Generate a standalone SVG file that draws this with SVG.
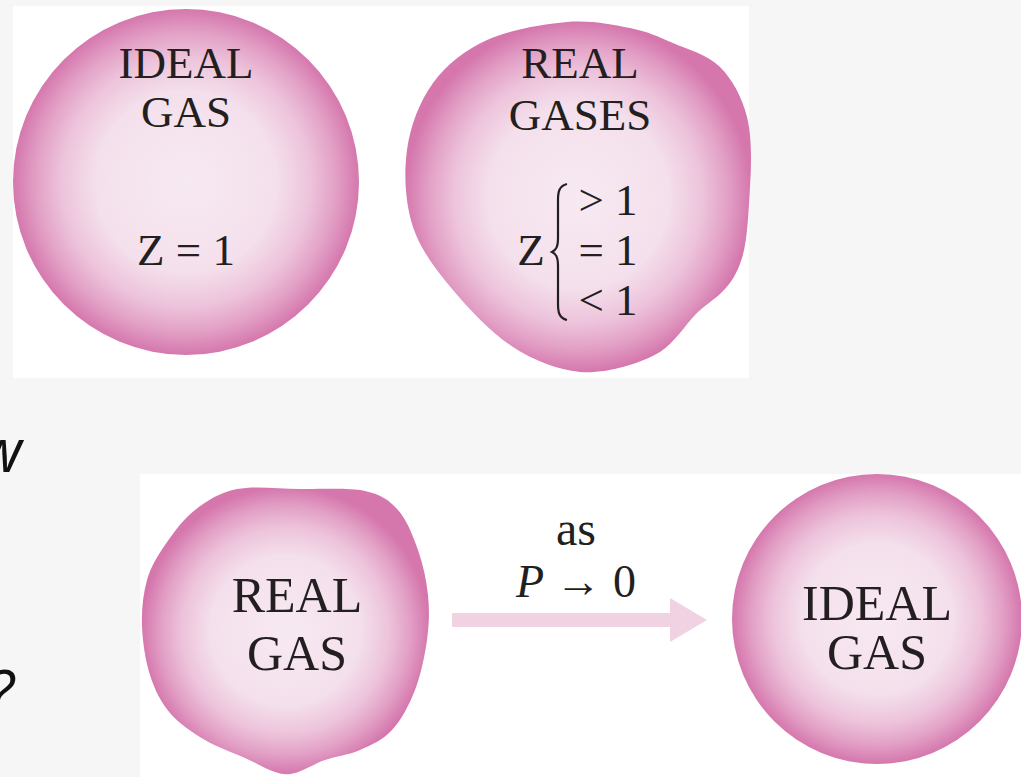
<svg xmlns="http://www.w3.org/2000/svg" width="1021" height="777" viewBox="0 0 1021 777">
<defs>
<radialGradient id="pinkGrad" cx="0.5" cy="0.5" r="0.5">
<stop offset="0" stop-color="#f7e9f2"/>
<stop offset="0.52" stop-color="#f4e0ec"/>
<stop offset="0.72" stop-color="#edc3db"/>
<stop offset="0.87" stop-color="#e29fc5"/>
<stop offset="1" stop-color="#d577ad"/>
</radialGradient>
<marker id="blockHead" markerUnits="userSpaceOnUse" markerWidth="38" markerHeight="44" refX="0" refY="22" orient="auto">
<path d="M0,0 L37,22 L0,44 Z" fill="#f0d2e3"/>
</marker>
<style>
.lbl{font-family:"Liberation Serif","Times New Roman",serif;fill:#231f20;text-anchor:middle}
.top{font-size:45px}
.bot{font-size:50px}
.it{font-style:italic}
.side{font-family:"Open Sans","Liberation Sans",sans-serif;font-style:italic;font-size:60px;fill:#111;text-anchor:end}
.blob{fill:url(#pinkGrad)}
</style>
</defs>
<rect x="0" y="0" width="1021" height="777" fill="#f6f6f6"/>
<rect x="13" y="6" width="736" height="372" fill="#ffffff"/>
<rect x="140" y="474" width="881" height="303" fill="#ffffff"/>
<text class="side" x="22" y="472">w</text>
<text class="side" x="14" y="713">?</text>

<g id="ideal-gas-top">
<circle class="blob" cx="186" cy="182" r="173"/>
<text class="lbl top" x="186" y="78">IDEAL</text>
<text class="lbl top" x="186" y="127">GAS</text>
<text class="lbl top" x="186" y="265">Z = 1</text>
</g>

<g id="real-gases-top">
<path class="blob" d="M567,22 C590.8,20 612.3,24.5 630,28 C647.7,31.5 658,36.5 673,43 C688,49.5 707.7,54.7 720,67 C732.3,79.3 742,97 747,117 C752,137 751.5,163 750,187 C748.5,211 747.5,241 742,258 C736.5,275 731,283 722,292 C713,301 704.5,305 695,315 C685.5,325 675,342 660,352 C640,364 605,374 580,372 C557.7,369.8 534.2,360.7 513,347 C491.8,333.3 469.7,310 453,290 C436.3,270 420.7,250.3 413,227 C405.3,203.7 403.7,174 407,150 C410.3,126 419.7,101.3 433,83 C446.3,64.7 464.7,50.2 487,40 C509.3,29.8 543.2,24 567,22 Z"/>
<text class="lbl top" x="580" y="78">REAL</text>
<text class="lbl top" x="580" y="130">GASES</text>
<text class="lbl top" x="531" y="265">Z</text>
<path d="M567,184 C559,186 558,192 558,200 L558,238 C558,247 556,250 552,252 C556,254 558,257 558,266 L558,304 C558,312 559,318 567,320" fill="none" stroke="#231f20" stroke-width="2.2"/>
<text class="lbl top" x="608" y="215">&gt; 1</text>
<text class="lbl top" x="608" y="265">= 1</text>
<text class="lbl top" x="608" y="315">&lt; 1</text>
</g>

<g id="real-gas-bottom">
<path class="blob" d="M237,489 C254.5,485.5 278.7,488.7 300,489 C321.3,489.3 348.7,487.5 365,491 C381.3,494.5 389.2,500.2 398,510 C406.8,519.8 413,535.8 418,550 C423,564.2 426.5,580 428,595 C429.5,610 429.2,624.2 427,640 C424.8,655.8 420.8,675 415,690 C409.2,705 401.2,720 392,730 C382.8,740 371.2,745 360,750 C348.8,755 335.8,756.2 325,760 C314.2,763.8 303.3,771 295,773 C286.7,775 283.3,774.5 275,772 C266.7,769.5 256.7,763.3 245,758 C233.3,752.7 217.5,747.5 205,740 C192.5,732.5 179.2,723.8 170,713 C160.8,702.2 154.7,689.7 150,675 C145.3,660.3 142.5,640.8 142,625 C141.5,609.2 143.2,593.3 147,580 C150.8,566.7 157,556.7 165,545 C173,533.3 183,519.3 195,510 C207,500.7 219.5,492.5 237,489 Z"/>
<text class="lbl bot" x="297" y="612">REAL</text>
<text class="lbl bot" x="297" y="670">GAS</text>
</g>

<g id="ideal-gas-bottom">
<circle class="blob" cx="877" cy="619" r="145"/>
<text class="lbl bot" x="877" y="620">IDEAL</text>
<text class="lbl bot" x="877" y="669">GAS</text>
</g>

<g id="connectors">
<line x1="452" y1="620" x2="670" y2="620" stroke="#f0d2e3" stroke-width="14" marker-end="url(#blockHead)"/>
<text class="lbl" style="font-size:48px" x="576" y="545">as</text>
<text class="lbl" style="font-size:46px" x="576" y="597"><tspan class="it">P</tspan> → 0</text>
</g>
</svg>
